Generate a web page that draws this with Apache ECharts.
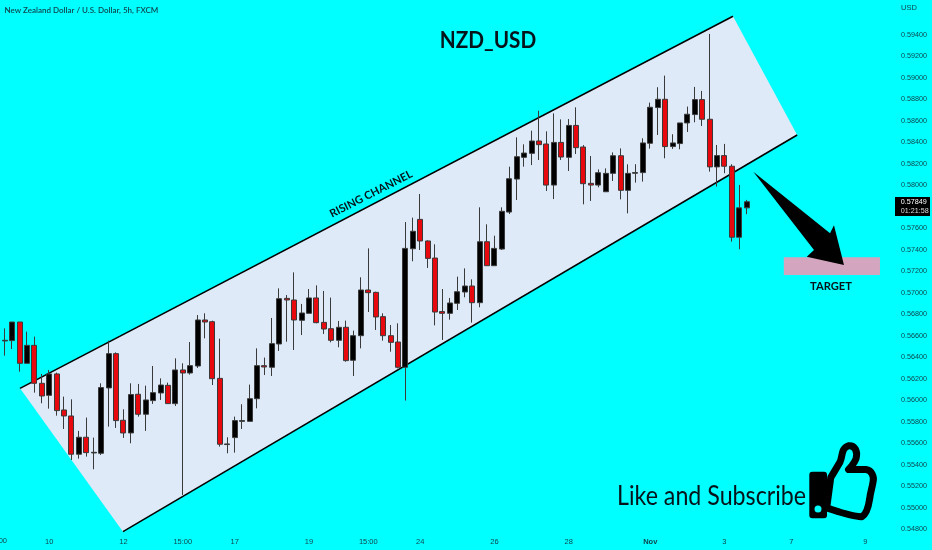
<!DOCTYPE html>
<html>
<head>
<meta charset="utf-8">
<style>html,body{margin:0;padding:0;background:#00ffff}#c{width:932px;height:550px}</style>
<script src="https://cdn.jsdelivr.net/npm/echarts@6/dist/echarts.min.js"></script>
</head>
<body>
<div id="c"></div>
<script>
// [open, close, low, high]
const candles = [
[.56554,.56560,.56417,.56671],[.56557,.56730,.56479,.56730],[.56730,.56346,.56268,.56730],[.56346,.56513,.56346,.56640],
[.56513,.56160,.56073,.56594],[.56160,.56042,.55974,.56247],[.56048,.56247,.55924,.56284],[.56247,.55906,.55859,.56259],
[.55912,.55856,.55735,.56036],[.55856,.55500,.55447,.56011],[.55500,.55658,.55459,.55717],[.55658,.55515,.55478,.55841],
[.55512,.55518,.55360,.55655],[.55509,.56120,.55493,.56160],[.56117,.56436,.55757,.56557],[.56436,.55813,.55745,.56448],
[.55816,.55698,.55652,.55918],[.55698,.56055,.55602,.56160],[.56058,.55872,.55850,.56154],[.55872,.56005,.55717,.56138],
[.55999,.56073,.55968,.56321],[.56070,.56144,.56005,.56206],[.56141,.55971,.55968,.56166],[.55971,.56284,.55949,.56392],
[.56284,.56256,.55121,.56346],[.56256,.56324,.56241,.56544],[.56321,.56749,.56303,.56795],[.56749,.56730,.56578,.56811],
[.56733,.56203,.56144,.56743],[.56206,.55593,.55571,.56575],[.55590,.55596,.55509,.55658],[.55655,.55813,.55515,.55850],
[.55806,.55813,.55735,.55965],[.55806,.56017,.55806,.56148],[.56017,.56324,.55927,.56485],[.56324,.56312,.56237,.56399],
[.56309,.56529,.56228,.56768],[.56526,.56947,.56461,.57043],[.56950,.56935,.56547,.56981],[.56935,.56749,.56470,.57192],
[.56746,.56814,.56609,.56898],[.56811,.56954,.56811,.57037],[.56954,.56724,.56718,.57071],[.56727,.56665,.56619,.57019],
[.56668,.56560,.56541,.56957],[.56560,.56681,.56495,.56740],[.56681,.56371,.56361,.56743],[.56374,.56603,.56228,.56650],
[.56603,.57028,.56485,.57146],[.57028,.57003,.56823,.57415],[.57006,.56777,.56656,.57012],[.56780,.56603,.56557,.56811],
[.56603,.56541,.56454,.56702],[.56544,.56309,.56299,.56718],[.56309,.57415,.55999,.57660],[.57412,.57574,.57295,.57701],
[.57685,.57484,.57400,.57921],[.57484,.57322,.57233,.57490],[.57325,.56823,.56699,.57453],[.56827,.56811,.56563,.57037],
[.56811,.56907,.56752,.56954],[.56904,.57012,.56842,.57152],[.57009,.57065,.56960,.57229],[.57065,.56910,.56724,.57127],
[.56910,.57477,.56867,.57797],[.57477,.57254,.57254,.57639],[.57254,.57415,.57254,.57533],[.57409,.57760,.57400,.57797],
[.57753,.58063,.57735,.58175],[.58060,.58268,.57865,.58448],[.58262,.58302,.58175,.58383],[.58299,.58414,.58190,.58510],
[.58414,.58380,.58237,.58696],[.58386,.58004,.57949,.58504],[.58004,.58401,.57874,.58671],[.58401,.58265,.58237,.58615],
[.58262,.58559,.58135,.58618],[.58559,.58352,.58293,.58727],[.58358,.58017,.57825,.58376],[.58020,.58004,.57856,.58274],
[.58004,.58119,.57983,.58150],[.57942,.58113,.57942,.58159],[.58113,.58277,.58042,.58308],[.58277,.57955,.57871,.58345],
[.57955,.58113,.57741,.58197],[.58114,.58120,.58027,.58198],[.58120,.58396,.58036,.58439],[.58393,.58728,.58343,.58771],
[.58725,.58802,.58470,.58914],[.58802,.58362,.58253,.59022],[.58362,.58396,.58340,.58477],[.58390,.58582,.58337,.58582],
[.58582,.58663,.58498,.58734],[.58660,.58799,.58588,.58917],[.58799,.58616,.58554,.58880],[.58616,.58173,.58129,.59410],
[.58173,.58278,.57990,.58377],[.58278,.58179,.58114,.58387],[.58179,.57519,.57478,.58198],[.57519,.57792,.57407,.58005],
[.57792,.57849,.57733,.57866]
];
const slotCount = 120;
const timeTicks = {6:'10',16:'12',24:'15:00',31:'17',41:'19',49:'15:00',56:'24',66:'26',76:'28',87:'Nov',97:'3',106:'7',116:'9'};
const priceTicks = ['0.59400','0.59200','0.59000','0.58800','0.58600','0.58400','0.58200','0.58000','0.57600','0.57400','0.57200','0.57000','0.56800','0.56600','0.56400','0.56200','0.56000','0.55800','0.55600','0.55400','0.55200','0.55000','0.54800'];
const channel = [[2.56,.56113],[98.65,.59574],[107.3,.58470],[16.44,.54780]];
const target = [[105.5,.57332],[118.46,.57332],[118.46,.57167],[105.5,.57167]];
const arrow = [[101.39,.58128],[111.73,.57555],[112.26,.57630],[113.61,.57260],[108.59,.57338],[109.57,.57400]];

const categories = Array.from({length: slotCount}, (_, i) => timeTicks[i] || '');
const TXT = '#10454f', FONT = 'Lato, "Open Sans", sans-serif', SMALL = '"Liberation Sans", sans-serif';

function overlay(points, fill, edges) {
  return {
    type: 'custom', xAxisIndex: 1, yAxisIndex: 0, z: 1, silent: true, clip: false,
    data: points,
    encode: {x: 0, y: 1},
    renderItem(params, api) {
      if (params.dataIndex !== 0) return null;
      const pts = points.map(p => api.coord(p));
      const kids = [{type: 'polygon', shape: {points: pts}, style: {fill}}];
      (edges || []).forEach(e => kids.push({
        type: 'line',
        shape: {x1: pts[e[0]][0], y1: pts[e[0]][1], x2: pts[e[1]][0], y2: pts[e[1]][1]},
        style: {stroke: '#000', lineWidth: 1.6}
      }));
      return {type: 'group', children: kids};
    }
  };
}

const thumbPath = 'M692 172 L720 125 C728 108 722 85 745 77 C765 75 772 95 768 113 C764 128 752 140 745 148 L797 148 C815 150 822 170 818 185 C815 205 810 215 808 235 C805 255 800 280 785 288 C760 290 720 275 680 262 Z';

const chart = echarts.init(document.getElementById('c'), null, {renderer: 'canvas'});
chart.setOption({
  animation: false,
  backgroundColor: '#00ffff',
  grid: {left: 1, top: 0, width: 890.4, height: 535, containLabel: false, outerBoundsMode: 'none'},
  xAxis: [{
    type: 'category', data: categories, boundaryGap: true,
    axisLine: {show: false}, axisTick: {show: false}, splitLine: {show: false},
    axisLabel: {
      interval: 0, margin: 3, fontSize: 7.5, color: TXT, fontFamily: SMALL, hideOverlap: false,
      formatter: v => v === 'Nov' ? '{b|Nov}' : v,
      rich: {b: {fontWeight: 'bold', fontSize: 7.5, color: TXT, fontFamily: SMALL}}
    }
  }, {
    type: 'value', min: 0, max: slotCount, show: false
  }],
  yAxis: [{
    type: 'value', position: 'right', min: 0.547488, max: 0.597256, scale: true,
    axisLine: {show: false}, axisTick: {show: false}, splitLine: {show: false},
    axisLabel: {
      customValues: priceTicks.map(Number),
      margin: 9.6, fontSize: 7.2, color: TXT, fontFamily: SMALL,
      formatter: v => Number(v).toFixed(5)
    }
  }],
  series: [
    overlay(channel, '#dfeaf8', [[0, 1], [3, 2]]),
    Object.assign(overlay(target, '#d4a5bf'), {z: 2}),
    Object.assign(overlay(arrow, '#000'), {z: 4}),
    {
      type: 'candlestick', z: 3, xAxisIndex: 0, yAxisIndex: 0, barWidth: 5.5, silent: true,
      data: candles,
      itemStyle: {color: '#000', color0: '#e8090f', borderColor: '#3a3a3a', borderColor0: '#3a3a3a', borderWidth: 1}
    },
    {
      type: 'custom', xAxisIndex: 1, yAxisIndex: 0, z: 5, silent: true, clip: false,
      data: [[112, 0.55]],
      renderItem() {
        return {type: 'group', children: [
          {type: 'path', shape: {pathData: thumbPath, x: 826.7, y: 445.7, width: 46.7, height: 71, layout: 'cover'},
            style: {fill: '#00ffff', stroke: '#000', lineWidth: 7, lineJoin: 'round'}},
          {type: 'rect', shape: {x: 809.3, y: 471.7, width: 17.7, height: 46.6, r: 3}, style: {fill: '#000'}},
          {type: 'circle', shape: {cx: 818, cy: 509, r: 3.5}, style: {fill: '#00ffff'}}
        ]};
      }
    }
  ],
  graphic: [
    {type: 'text', x: 4.5, y: 10.5, z: 10, style: {text: 'New Zealand Dollar / U.S. Dollar, 5h, FXCM', font: '600 8px ' + FONT, fill: TXT, textVerticalAlign: 'middle'}},
    {type: 'text', x: 901, y: 8, z: 10, style: {text: 'USD', font: '7.5px ' + SMALL, fill: TXT, textVerticalAlign: 'middle'}},
    {type: 'text', x: 7, y: 541, z: 10, style: {text: '00', font: '7.5px ' + SMALL, fill: TXT, textAlign: 'right', textVerticalAlign: 'middle'}},
    {type: 'text', x: 488, y: 40.5, z: 10, scaleX: 0.9, style: {text: 'NZD_USD', font: 'bold 23px ' + FONT, fill: '#07131a', textAlign: 'center', textVerticalAlign: 'middle'}},
    {type: 'text', x: 371, y: 194, rotation: 0.47, z: 10, style: {text: 'RISING CHANNEL', font: 'bold 11px ' + FONT, fill: '#07131a', textAlign: 'center', textVerticalAlign: 'middle'}},
    {type: 'text', x: 831, y: 286, z: 10, scaleX: 0.93, style: {text: 'TARGET', font: 'bold 12px ' + FONT, fill: '#07131a', textAlign: 'center', textVerticalAlign: 'middle'}},
    {type: 'text', x: 617, y: 496.5, z: 10, scaleX: 0.86, style: {text: 'Like and Subscribe', font: '27px ' + FONT, fill: '#07131a', textVerticalAlign: 'middle'}},
    {type: 'rect', z: 10, shape: {x: 895, y: 197, width: 35, height: 19}, style: {fill: '#000'}},
    {type: 'text', x: 900.7, y: 202, z: 11, style: {text: '0.57849', font: '7.2px ' + SMALL, fill: '#fff', textVerticalAlign: 'middle'}},
    {type: 'text', x: 900.7, y: 211, z: 11, style: {text: '01:21:58', font: '7.2px ' + SMALL, fill: '#ddd', textVerticalAlign: 'middle'}}
  ]
});
</script>
</body>
</html>
